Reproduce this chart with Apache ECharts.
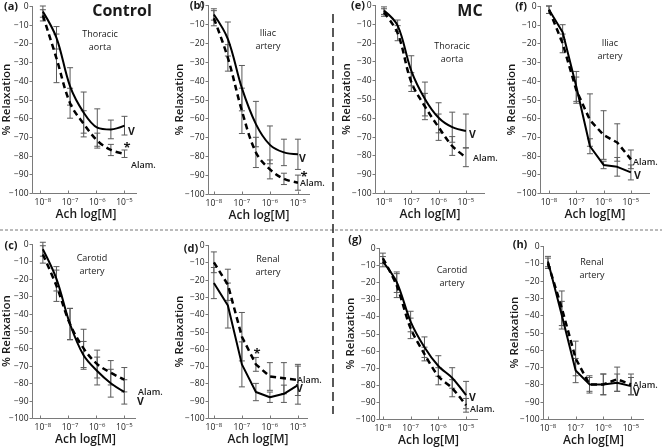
<!DOCTYPE html>
<html>
<head>
<meta charset="utf-8">
<script src="https://cdn.jsdelivr.net/npm/echarts@6/dist/echarts.min.js"></script>
<style>
  html, body { margin: 0; padding: 0; background: #fff; }
  #chart { width: 662px; height: 448px; }
</style>
</head>
<body>
<div id="chart"></div>
<script>
// Ach dose, log10[M]
const doses = [-8, -7.5, -7, -6.5, -6, -5.5, -5];
const xTicks = [-8, -7, -6, -5];
const yTicks = [0, -10, -20, -30, -40, -50, -60, -70, -80, -90, -100];

// Control
const aV = [-3, -17, -43, -57, -65, -66, -64];
const aVsem = [3, 6, 10, 11, 10, 5, 5];
const aAlam = [-5, -28, -52, -63, -72, -77, -79];
const aAlamSem = [3, 13, 8, 7, 4, 3, 2];

const bV = [-5, -18, -44, -63, -74, -78, -79];
const bVsem = [3, 9, 12, 12, 10, 7, 8];
const bAlam = [-7, -28, -56, -78, -87, -92, -94];
const bAlamSem = [4, 7, 12, 8, 5, 3, 4];

const cV = [-3, -20, -46, -64, -73, -80, -85];
const cVsem = [4, 7, 9, 8, 8, 8, 7];
const cAlam = [-6, -24, -46, -60, -69, -74, -78];
const cAlamSem = [5, 9, 9, 11, 8, 7, 7];

const dV = [-22, -35, -69, -85, -88, -86, -81];
const dVsem = [9, 13, 13, 5, 3, 5, 11];
const dAlam = [-10, -23, -53, -69, -76, -77, -78];
const dAlamSem = [6, 9, 14, 4, 8, 9, 9];

// MC
const eV = [-3, -11, -35, -50, -60, -65, -67];
const eVsem = [2, 3, 8, 9, 8, 8, 9];
const eAlam = [-4, -15, -41, -54, -65, -75, -81];
const eAlamSem = [2, 4, 5, 7, 7, 5, 5];

const fV = [-2, -14, -43, -75, -85, -86, -89];
const fVsem = [2, 4, 8, 4, 2, 5, 4];
const fAlam = [-2, -20, -45, -61, -69, -73, -82];
const fAlamSem = [2, 5, 7, 14, 13, 10, 5];

const gV = [-8, -20, -43, -58, -69, -76, -86];
const gVsem = [3, 6, 6, 6, 6, 6, 8];
const gAlam = [-6, -22, -47, -62, -75, -82, -92];
const gAlamSem = [3, 7, 6, 4, 5, 5, 4];

const hV = [-9, -40, -72, -80, -80, -79, -81];
const hVsem = [3, 8, 7, 4, 6, 5, 5];
const hAlam = [-10, -36, -65, -80, -80, -77, -80];
const hAlamSem = [3, 10, 10, 5, 6, 7, 6];

// panel layout: grid box in px and visible log range
const panels = [
  { v: aV, vs: aVsem, al: aAlam, as: aAlamSem, left: 32, top: 6, width: 105, height: 187, min: -8.29, max: -4.54, smooth: 0.35 },
  { v: bV, vs: bVsem, al: bAlam, as: bAlamSem, left: 208, top: 5, width: 102, height: 189, min: -8.21, max: -4.57, smooth: 0.35 },
  { v: eV, vs: eVsem, al: eAlam, as: eAlamSem, left: 375, top: 5, width: 110, height: 188, min: -8.33, max: -4.3, smooth: 0.35 },
  { v: fV, vs: fVsem, al: fAlam, as: fAlamSem, left: 540, top: 6, width: 110, height: 187, min: -8.33, max: -4.3, smooth: false },
  { v: cV, vs: cVsem, al: cAlam, as: cAlamSem, left: 32, top: 244, width: 104, height: 174, min: -8.29, max: -4.57, smooth: 0.35 },
  { v: dV, vs: dVsem, al: dAlam, as: dAlamSem, left: 208, top: 245, width: 100, height: 173, min: -8.21, max: -4.64, smooth: false },
  { v: gV, vs: gVsem, al: gAlam, as: gAlamSem, left: 379, top: 248, width: 99, height: 171, min: -8.14, max: -4.57, smooth: 0.3 },
  { v: hV, vs: hVsem, al: hAlam, as: hAlamSem, left: 543, top: 246, width: 101, height: 173, min: -8.18, max: -4.53, smooth: false }
];

const FONT = '"Open Sans", Lato, sans-serif';
const INK = '#1a1a1a';
const AXIS = '#7a7a7a';

// axis frame of a panel, from its grid box and axis ranges
function frameGraphics(p) {
  const st = { stroke: AXIS, lineWidth: 1 };
  const ox = Math.round(p.left) + 0.5;
  const oy = Math.round(p.top + p.height) + 0.5;
  const out = [
    { type: 'line', z: 9, silent: true, shape: { x1: ox, y1: oy, x2: ox, y2: p.top }, style: st },
    { type: 'line', z: 9, silent: true, shape: { x1: ox, y1: oy, x2: p.left + p.width, y2: oy }, style: st }
  ];
  yTicks.forEach(t => {
    const yy = Math.round(p.top + p.height * (0 - t) / 100) + 0.5;
    out.push({ type: 'line', z: 9, silent: true, shape: { x1: ox - 3, y1: yy, x2: ox, y2: yy }, style: st });
    out.push({ type: 'text', z: 9, silent: true, style: {
      text: t === 0 ? '0' : '\u2212' + Math.abs(t), x: ox - 4, y: yy,
      align: 'right', verticalAlign: 'middle', fill: INK, font: '8.5px ' + FONT } });
  });
  xTicks.forEach(t => {
    const xx = Math.round(p.left + p.width * (t - p.min) / (p.max - p.min)) + 0.5;
    out.push({ type: 'line', z: 9, silent: true, shape: { x1: xx, y1: oy, x2: xx, y2: oy - 3 }, style: st });
  });
  return out;
}

function errorBars(i, means, sems) {
  return {
    type: 'custom',
    xAxisIndex: i,
    yAxisIndex: i,
    z: 2,
    silent: true,
    data: doses.map((d, k) => [d, means[k], sems[k]]),
    encode: { x: 0, y: 1 },
    renderItem: function (params, api) {
      const x = api.value(0), m = api.value(1), s = api.value(2);
      const hi = api.coord([x, m + s]);
      const lo = api.coord([x, m - s]);
      const hw = 3;
      const st = { stroke: '#5a5a5a', lineWidth: 1 };
      return {
        type: 'group',
        children: [
          { type: 'line', shape: { x1: hi[0], y1: hi[1], x2: lo[0], y2: lo[1] }, style: st },
          { type: 'line', shape: { x1: hi[0] - hw, y1: hi[1], x2: hi[0] + hw, y2: hi[1] }, style: st },
          { type: 'line', shape: { x1: lo[0] - hw, y1: lo[1], x2: lo[0] + hw, y2: lo[1] }, style: st }
        ]
      };
    }
  };
}

const grids = [], xAxes = [], yAxes = [], series = [], frames = [];
panels.forEach((p, i) => {
  grids.push({ left: p.left, top: p.top, width: p.width, height: p.height });
  xAxes.push({
    type: 'value', gridIndex: i, min: p.min, max: p.max,
    name: 'Ach log[M]', nameLocation: 'middle', nameGap: 12,
    nameTextStyle: { fontFamily: FONT, fontSize: 12, color: INK, fontWeight: 600 },
    splitLine: { show: false },
    axisLine: { show: false, onZero: false },
    axisTick: { show: false },
    axisLabel: {
      customValues: xTicks, margin: 4, fontFamily: FONT, fontSize: 8.5, color: INK,
      formatter: v => '10{s|\u2212' + Math.abs(Math.round(v)) + '}',
      rich: { s: { fontSize: 6, fontFamily: FONT, color: INK, padding: [0, 0, 6, 0] } }
    }
  });
  yAxes.push({
    type: 'value', gridIndex: i, min: -100, max: 0, interval: 10,
    name: '% Relaxation', nameLocation: 'middle', nameGap: 22,
    nameTextStyle: { fontFamily: FONT, fontSize: 11.5, color: INK, fontWeight: 600 },
    splitLine: { show: false },
    axisLine: { show: false, onZero: false },
    axisTick: { show: false },
    axisLabel: { show: false }
  });
  frames.push(...frameGraphics(p));
  series.push(errorBars(i, p.v, p.vs));
  series.push(errorBars(i, p.al, p.as));
  series.push({
    type: 'line', name: 'V', xAxisIndex: i, yAxisIndex: i, z: 4,
    data: doses.map((d, k) => [d, p.v[k]]),
    symbol: 'none', smooth: p.smooth,
    lineStyle: { color: '#000', width: 2 }
  });
  series.push({
    type: 'line', name: 'Alam.', xAxisIndex: i, yAxisIndex: i, z: 3,
    data: doses.map((d, k) => [d, p.al[k]]),
    symbol: 'none', smooth: p.smooth,
    lineStyle: { color: '#000', width: 2.5, type: [6, 4] }
  });
});

function txt(text, x, y, size, weight, align) {
  return {
    type: 'text', z: 10, silent: true,
    style: {
      text: text, x: x, y: y, fill: INK,
      font: (weight || 'normal') + ' ' + size + 'px ' + FONT,
      align: align || 'center', verticalAlign: 'middle', lineHeight: size + 4
    }
  };
}

const graphics = frames.concat([
  // dividers
  { type: 'line', shape: { x1: 0, y1: 230, x2: 662, y2: 230 }, style: { stroke: '#777', lineWidth: 1, lineDash: [3, 2] } },
  { type: 'line', shape: { x1: 333, y1: 14, x2: 333, y2: 414 }, style: { stroke: '#222', lineWidth: 1.5, lineDash: [9, 5] } },
  // group titles
  txt('Control', 122, 11, 16, 'bold'),
  txt('MC', 470, 11, 16, 'bold'),
  // panel letters
  txt('(a)', 11, 7, 11, 'bold'),
  txt('(b)', 197, 6, 11, 'bold'),
  txt('(e)', 358, 6, 11, 'bold'),
  txt('(f)', 521, 7, 11, 'bold'),
  txt('(c)', 11, 246, 11, 'bold'),
  txt('(d)', 191, 249, 11, 'bold'),
  txt('(g)', 355, 240, 11, 'bold'),
  txt('(h)', 520, 245, 11, 'bold'),
  // tissue labels
  txt('Thoracic\naorta', 100, 41, 9),
  txt('Iliac\nartery', 268, 40, 9),
  txt('Thoracic\naorta', 452, 53, 9),
  txt('Iliac\nartery', 610, 50, 9),
  txt('Carotid\nartery', 92, 265, 9),
  txt('Renal\nartery', 268, 266, 9),
  txt('Carotid\nartery', 452, 277, 9),
  txt('Renal\nartery', 592, 269, 9),
  // series end labels
  txt('V', 128, 132, 10.5, 'bold', 'left'),
  txt('Alam.', 131, 165, 9, '600', 'left'),
  txt('*', 127, 148, 13, 'bold'),
  txt('V', 299, 159, 10.5, 'bold', 'left'),
  txt('Alam.', 300, 183, 9, '600', 'left'),
  txt('*', 304, 177, 13, 'bold'),
  txt('V', 469, 135, 10.5, 'bold', 'left'),
  txt('Alam.', 473, 158, 9, '600', 'left'),
  txt('Alam.', 633, 162, 9, '600', 'left'),
  txt('V', 634, 176, 10.5, 'bold', 'left'),
  txt('Alam.', 138, 392, 9, '600', 'left'),
  txt('V', 137, 402, 10.5, 'bold', 'left'),
  txt('Alam.', 297, 380, 9, '600', 'left'),
  txt('V', 296, 389, 10.5, 'bold', 'left'),
  txt('*', 257, 354, 13, 'bold'),
  txt('V', 469, 398, 10.5, 'bold', 'left'),
  txt('Alam.', 470, 409, 9, '600', 'left'),
  txt('Alam.', 633, 385, 9, '600', 'left'),
  txt('V', 633, 393, 10.5, 'bold', 'left')
]);

const chart = echarts.init(document.getElementById('chart'), null, { renderer: 'canvas' });
chart.setOption({
  animation: false,
  backgroundColor: '#fff',
  grid: grids,
  xAxis: xAxes,
  yAxis: yAxes,
  series: series,
  graphic: graphics
});
</script>
</body>
</html>
